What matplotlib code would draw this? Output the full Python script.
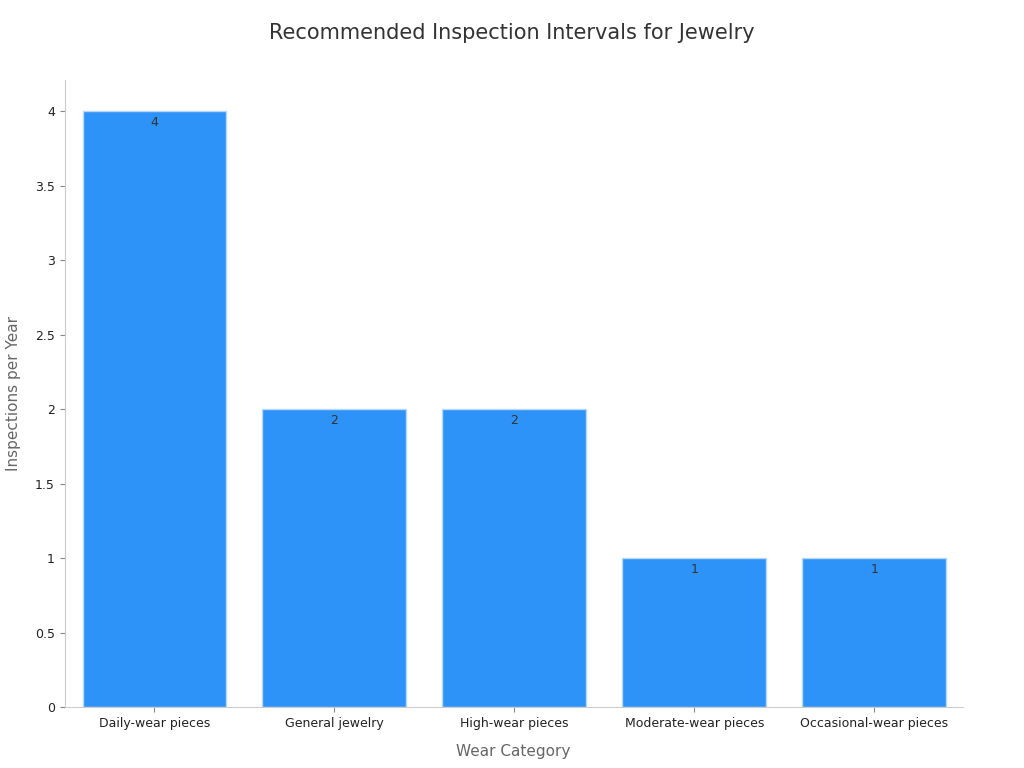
import matplotlib
matplotlib.use("Agg")
import matplotlib.pyplot as plt

categories = ["Daily-wear pieces", "General jewelry", "High-wear pieces", "Moderate-wear pieces", "Occasional-wear pieces"]
values = [4, 2, 2, 1, 1]
yticks = [0, 0.5, 1, 1.5, 2, 2.5, 3, 3.5, 4]
ytick_labels = ["0", "0.5", "1", "1.5", "2", "2.5", "3", "3.5", "4"]

fig = plt.figure(figsize=(10.24, 7.68), dpi=100)
ax = fig.add_axes([0.063, 0.079, 0.877, 0.817])
bars = ax.bar(range(len(categories)), values, width=0.8, color="#2e93f8", edgecolor="#b8d8f8", linewidth=1)
for i, v in enumerate(values):
    ax.text(i, v - 0.03, str(v), ha="center", va="top", fontsize=9, color="#333333")
ax.set_xlim(-0.5, 4.49)
ax.set_ylim(0, 4.21)
ax.set_xticks(range(len(categories)))
ax.set_xticklabels(categories, fontsize=9, color="#222222")
ax.set_yticks(yticks)
ax.set_yticklabels(ytick_labels, fontsize=9, color="#222222")
for s in ["top", "right"]:
    ax.spines[s].set_visible(False)
for s in ["left", "bottom"]:
    ax.spines[s].set_color("#cccccc")
ax.tick_params(colors="#888888", labelcolor="#222222")
ax.set_xlabel("Wear Category", fontsize=11, color="#666666", labelpad=10)
ax.set_ylabel("Inspections per Year", fontsize=11, color="#666666", labelpad=10)
fig.suptitle("Recommended Inspection Intervals for Jewelry", fontsize=15, color="#333333", y=0.97)
fig.savefig("out.png", dpi=100)
